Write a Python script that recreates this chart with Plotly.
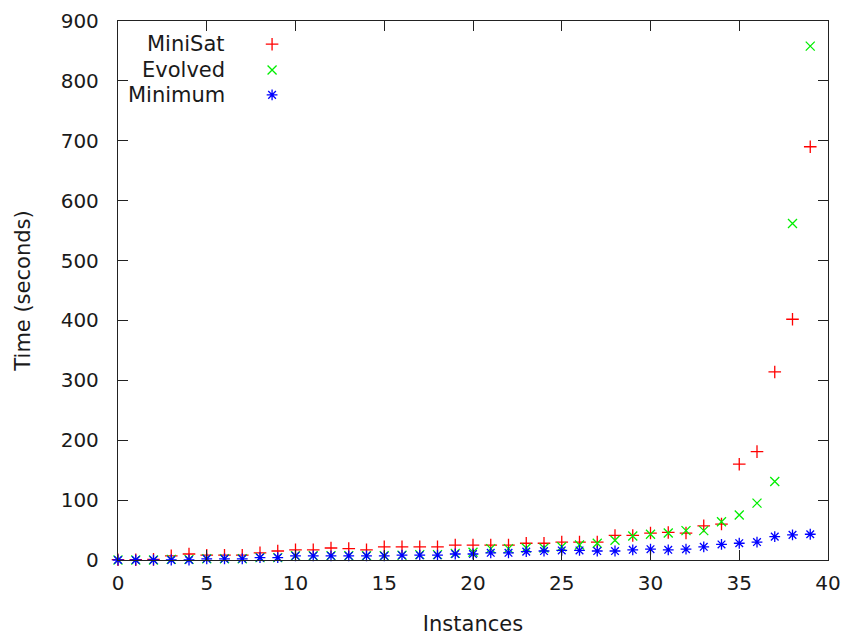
import plotly.graph_objects as go

# Instance index (sorted by solve time)
instances = list(range(40))

# Solve times in seconds for each solver configuration
minisat = [0.5, 0.5, 1, 7, 10, 8, 8, 8, 12, 15,
           17, 17, 20, 19, 17, 22, 22, 22, 22, 25,
           25, 25, 25, 28, 28, 30, 30, 30, 41, 41,
           45, 46, 45, 57, 60, 160, 181, 314, 402, 690]
evolved = [0, 0, 0, 1, 1, 2, 2, 2, 4, 4,
           7, 7, 7, 7, 7, 7, 8, 9, 9, 11,
           13, 19, 19, 20, 20, 22, 25, 28, 33, 40,
           43, 45, 49, 49, 64, 75, 95, 131, 562, 858]
minimum = [0, 0, 0, 0, 0, 2, 2, 2, 4, 4,
           7, 7, 7, 7, 7, 7, 8, 8, 8, 10,
           10, 12, 12, 14, 15, 16, 16, 15, 15, 17,
           18, 17, 18, 22, 26, 28, 30, 39, 42, 43]

series_names = ["MiniSat", "Evolved", "Minimum"]
series_colors = ["#ff0000", "#00ee00", "#0000ff"]
series_symbols = ["cross-thin-open", "x-thin-open", "asterisk-open"]
series_values = [minisat, evolved, minimum]

x_ticks = [0, 5, 10, 15, 20, 25, 30, 35, 40]
y_ticks = [0, 100, 200, 300, 400, 500, 600, 700, 800, 900]

FONT = "DejaVu Sans"
TEXT = "#1a1a1a"
AXIS = "#222222"
MSIZE = 9
MLINE = 1.3

fig = go.Figure()

for name, color, sym, vals in zip(series_names, series_colors, series_symbols, series_values):
    fig.add_trace(go.Scatter(
        x=instances, y=vals, mode="markers", name=name,
        marker=dict(symbol=sym, size=MSIZE, color=color, line=dict(color=color, width=MLINE)),
        cliponaxis=False, showlegend=False,
    ))

# Key: right-aligned labels with a marker sample to their right
key_rows = [0.957, 0.909, 0.863]
for name, color, sym, ky in zip(series_names, series_colors, series_symbols, key_rows):
    fig.add_trace(go.Scatter(
        x=[0.217], y=[ky], mode="markers", xaxis="x2", yaxis="y2",
        marker=dict(symbol=sym, size=MSIZE, color=color, line=dict(color=color, width=MLINE)),
        showlegend=False, hoverinfo="skip", cliponaxis=False,
    ))
    fig.add_annotation(
        x=0.154, y=ky, xref="paper", yref="paper", text=name, showarrow=False,
        xanchor="right", yanchor="middle", font=dict(family=FONT, size=21, color=TEXT),
    )

axis_common = dict(
    showgrid=False, zeroline=False, showline=True, linecolor=AXIS, linewidth=1.3,
    mirror="ticks", ticks="inside", ticklen=10, tickwidth=1.3, tickcolor=AXIS,
    tickfont=dict(family=FONT, size=20, color=TEXT), automargin=False,
)

fig.update_layout(
    width=848, height=639,
    margin=dict(l=118, r=20, t=21, b=79),
    paper_bgcolor="white", plot_bgcolor="white",
    showlegend=False,
    xaxis=dict(range=[0, 40], tickvals=x_ticks, ticklabelstandoff=5,
               title=dict(text="Instances", font=dict(family=FONT, size=21, color=TEXT), standoff=22),
               **axis_common),
    yaxis=dict(range=[0, 900], tickvals=y_ticks, ticklabelstandoff=14,
               title=dict(text="Time (seconds)", font=dict(family=FONT, size=21, color=TEXT), standoff=24),
               **axis_common),
    xaxis2=dict(overlaying="x", range=[0, 1], visible=False),
    yaxis2=dict(overlaying="y", range=[0, 1], visible=False),
)

fig.write_html("out.html")
